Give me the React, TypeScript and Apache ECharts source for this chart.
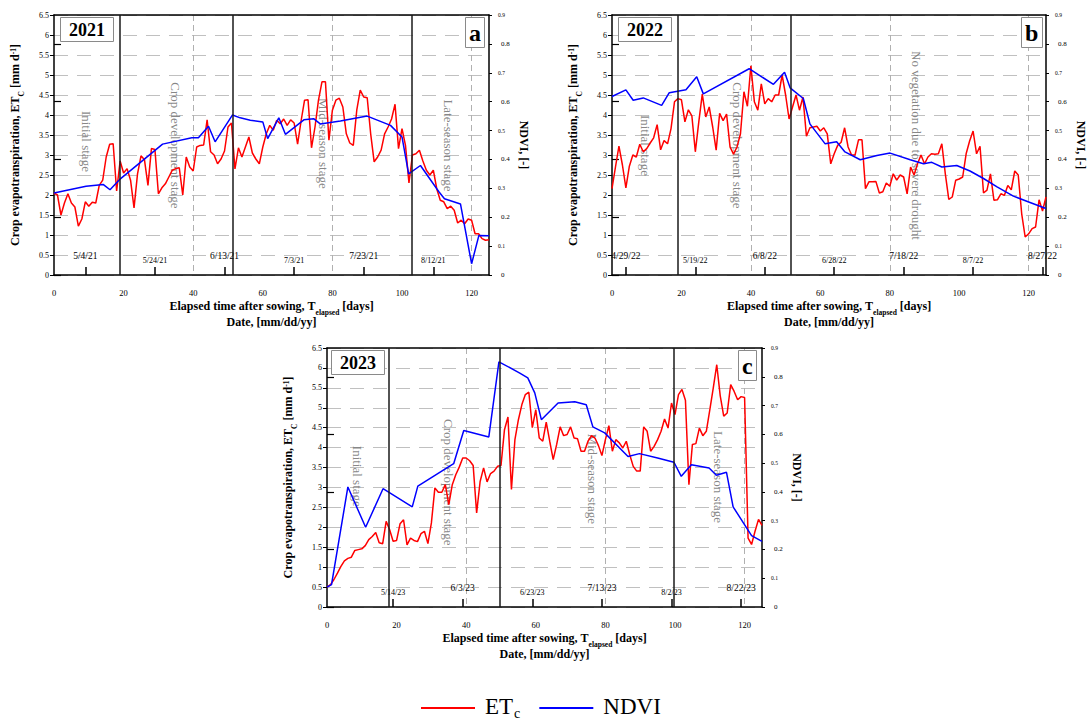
import React, { useEffect, useRef } from 'react';
import * as echarts from 'echarts';

const FONT = '"Liberation Serif", "Times New Roman", serif';

// ---------- data ----------
// daily crop evapotranspiration (mm/d), day 0..125 after sowing
const et2021 = [
  2.05, 2.0, 1.5, 1.8, 2.03, 1.8, 1.7, 1.22, 1.4, 1.83,
  1.72, 1.82, 1.8, 2.24, 2.37, 2.95, 3.27, 3.28, 2.1, 2.85,
  2.55, 2.66, 2.37, 1.68, 2.53, 2.98, 2.88, 2.24, 3.16, 3.14,
  2.03, 2.18, 2.28, 2.45, 2.62, 2.66, 2.68, 2.0, 2.95, 2.7,
  2.6, 3.2, 3.24, 3.25, 3.88, 3.08, 3.0, 2.78, 2.9, 3.1,
  3.7, 3.8, 2.65, 3.18, 2.95, 3.2, 3.45, 3.05, 2.9, 2.78,
  3.2, 3.53, 3.74, 3.62, 3.87, 3.78, 3.9, 3.74, 3.88, 3.8,
  3.27, 3.85, 4.37, 4.38, 3.18, 3.7, 4.37, 4.83, 4.83, 3.37,
  4.12, 4.37, 4.42, 4.2, 3.53, 3.3, 3.24, 4.12, 4.62, 4.45,
  4.43, 3.53, 2.83, 2.95, 3.12, 3.53, 3.7, 3.9, 4.27, 3.16,
  3.66, 3.24, 2.3, 3.0, 3.03, 3.12, 2.85, 2.62, 2.5, 2.62,
  2.15, 1.87, 1.83, 1.66, 1.72, 1.62, 1.3, 1.37, 1.28, 1.4,
  1.37, 1.03, 1.03, 0.91, 0.87, 0.88,
];
const et2022 = [
  2.16, 2.7, 3.22, 2.75, 2.18, 2.72, 3.0, 2.95, 3.27, 3.08,
  3.16, 3.3, 3.43, 3.76, 3.13, 3.36, 3.28, 3.66, 4.33, 4.41,
  4.38, 3.83, 4.13, 3.98, 3.08, 3.83, 4.52, 3.95, 4.2, 3.7,
  3.12, 4.04, 3.86, 4.02, 3.2, 3.02, 3.2, 3.53, 4.58, 4.22,
  5.23, 4.33, 4.12, 4.78, 4.28, 4.41, 4.33, 4.5, 4.5, 5.0,
  4.5, 3.9, 4.2, 4.5, 4.12, 4.45, 3.47, 3.68, 3.7, 3.72,
  3.6, 3.68, 3.53, 2.78, 3.03, 3.24, 3.32, 3.68, 3.2, 3.0,
  3.0, 3.38, 3.38, 2.16, 2.33, 2.33, 2.34, 2.05, 2.08, 2.3,
  2.22, 2.53, 2.37, 2.5, 2.45, 2.03, 2.7, 2.5, 2.78, 3.0,
  2.78, 2.95, 3.03, 3.02, 3.03, 3.28, 2.53, 1.89, 1.95, 2.37,
  2.4, 2.45, 3.03, 3.35, 3.6, 3.03, 3.22, 2.05, 2.12, 2.53,
  1.87, 1.88, 2.03, 1.99, 2.24, 2.13, 2.6, 2.5, 1.53, 0.95,
  1.03, 1.16, 1.2, 1.88, 1.6, 1.95,
];
const et2023 = [
  0.5, 0.56, 0.69, 0.85, 1.02, 1.16, 1.22, 1.25, 1.42, 1.44,
  1.46, 1.54, 1.69, 1.77, 1.87, 1.61, 1.59, 2.15, 1.94, 1.65,
  1.67, 2.09, 2.19, 1.56, 1.73, 1.67, 1.64, 1.84, 1.9, 1.59,
  2.11, 2.99, 2.88, 2.88, 3.07, 2.57, 3.07, 3.32, 3.51, 3.74,
  3.74, 3.67, 3.55, 2.36, 3.15, 3.49, 3.14, 3.35, 3.41, 3.53,
  3.55, 4.45, 4.77, 2.95, 4.2, 4.7, 5.08, 5.33, 5.39, 4.5,
  4.95, 4.24, 4.16, 4.64, 4.16, 3.7, 4.08, 4.52, 4.3, 4.33,
  4.52, 4.24, 4.22, 3.91, 3.91, 4.16, 4.3, 4.24, 4.05, 3.8,
  4.2, 4.55, 3.91, 4.2, 4.12, 3.99, 4.16, 3.82, 3.53, 3.41,
  3.41, 4.52, 4.41, 3.91, 4.03, 4.2, 4.41, 4.72, 4.49, 5.12,
  4.83, 5.33, 5.46, 5.19, 3.07, 4.08, 4.1, 4.49, 4.3, 4.41,
  4.95, 5.5, 6.08, 5.3, 4.79, 4.87, 5.58, 5.41, 5.2, 5.28,
  5.26, 1.73, 1.57, 1.9, 2.2, 2.05,
];

// NDVI observations [day after sowing, NDVI]
const ndvi2021 = [
  [0, 0.284], [9.2, 0.307], [14.2, 0.313], [16.1, 0.295], [18.8, 0.33],
  [31.2, 0.453], [39.6, 0.475], [41.5, 0.475], [44.4, 0.515], [46.3, 0.461],
  [51.3, 0.554], [53.5, 0.544], [56.4, 0.536], [60, 0.53], [61.4, 0.472],
  [64.6, 0.544], [66.5, 0.487], [71.8, 0.537], [74.6, 0.541], [76.5, 0.523],
  [82.3, 0.533], [90, 0.55], [96.7, 0.518], [100, 0.478], [101.9, 0.35],
  [105.3, 0.379], [110.6, 0.288], [112.2, 0.264], [116.8, 0.246], [120, 0.039],
  [122.1, 0.137], [125, 0.136],
];
const ndvi2022 = [
  [0, 0.618], [4, 0.641], [6.1, 0.605], [9, 0.613], [14.3, 0.587],
  [16.5, 0.631], [21.3, 0.641], [24.4, 0.686], [26.3, 0.627], [39.5, 0.714],
  [46.5, 0.66], [49.7, 0.702], [51.3, 0.648], [55.1, 0.611], [57, 0.523],
  [61.4, 0.454], [64.7, 0.461], [67.1, 0.426], [71.5, 0.399], [76.3, 0.414],
  [80.1, 0.422], [85.9, 0.399], [89.7, 0.385], [92.1, 0.39], [95, 0.374],
  [99.3, 0.379], [103.1, 0.36], [107, 0.334], [110.9, 0.305], [115.6, 0.273],
  [120.4, 0.251], [125, 0.23],
];
const ndvi2023 = [
  [0, 0.069], [1.3, 0.078], [6, 0.417], [11.1, 0.277], [16.1, 0.411],
  [24.5, 0.348], [26.1, 0.42], [36.4, 0.498], [39.3, 0.613], [46.5, 0.591],
  [49.4, 0.852], [55.4, 0.813], [57.7, 0.796], [59.7, 0.744], [61.6, 0.651],
  [66.4, 0.709], [71.2, 0.713], [74.5, 0.703], [76.4, 0.626], [79.8, 0.605],
  [86.5, 0.523], [89.8, 0.533], [95, 0.518], [99.7, 0.503], [101.8, 0.454],
  [104.7, 0.494], [109.8, 0.483], [111.9, 0.458], [114.8, 0.468], [116.7, 0.348],
  [122, 0.248], [125, 0.228],
];

// growth-stage boundaries (days after sowing)
const stage2021 = [18.8, 51.3, 102.7];
const stage2022 = [18.9, 51.4];
const stage2023 = [17.7, 49.6, 99.7];

// growth-stage annotations and their anchor [day, ETc]
const stageText2021 = ['Initial stage', 'Crop development stage', 'Mid-season stage', 'Late-season stage'];
const stageAt2021 = [[9.2, 3.34], [34.8, 3.24], [77.5, 3.29], [113.5, 3.24]];
const stageText2022 = ['Initial stage', 'Crop development stage', 'No vegetation due to severe drought'];
const stageAt2022 = [[9.6, 3.24], [36.1, 3.24], [87.8, 3.24]];
const stageText2023 = ['Initial stage', 'Crop development stage', 'Mid-season stage', 'Late-season stage'];
const stageAt2023 = [[8.9, 3.28], [35, 3.13], [76.3, 3.22], [112.6, 3.26]];

// calendar date ticks
const dateDays2021 = [9, 29, 49, 69, 89, 109];
const dateLabels2021 = ['5/4/21', '5/24/21', '6/13/21', '7/3/21', '7/23/21', '8/12/21'];
const dateDays2022 = [4, 24, 44, 64, 84, 104, 124];
const dateLabels2022 = ['4/29/22', '5/19/22', '6/8/22', '6/28/22', '7/18/22', '8/7/22', '8/27/22'];
const dateDays2023 = [19, 39, 59, 79, 99, 119];
const dateLabels2023 = ['5/14/23', '6/3/23', '6/23/23', '7/13/23', '8/2/23', '8/22/23'];

const years = ['2021', '2022', '2023'];
const letters = ['a', 'b', 'c'];

const panels = [
  { et: et2021, ndvi: ndvi2021, stages: stage2021, text: stageText2021, at: stageAt2021, dd: dateDays2021, dl: dateLabels2021 },
  { et: et2022, ndvi: ndvi2022, stages: stage2022, text: stageText2022, at: stageAt2022, dd: dateDays2022, dl: dateLabels2022 },
  { et: et2023, ndvi: ndvi2023, stages: stage2023, text: stageText2023, at: stageAt2023, dd: dateDays2023, dl: dateLabels2023 },
];

// ---------- layout / style ----------
const layout = [
  { left: 54, top: 15, width: 435, height: 260, yearL: 60, yearT: 17, letL: 465, letT: 17, bigFirst: true },
  { left: 612, top: 15, width: 434, height: 260, yearL: 618, yearT: 17, letL: 1021, letT: 17, bigFirst: true },
  { left: 327, top: 348, width: 435, height: 259, yearL: 331, yearT: 350, letL: 738, letT: 350, bigFirst: false },
];

const black = '#000';
const titleRich = {
  b: { fontFamily: FONT, fontSize: 12, fontWeight: 'bold', color: black, lineHeight: 16, verticalAlign: 'top' },
  sub: { fontFamily: FONT, fontSize: 7.5, fontWeight: 'bold', color: black, lineHeight: 8, verticalAlign: 'top', padding: [8, 0, 0, 0] },
  sup: { fontFamily: FONT, fontSize: 7.5, fontWeight: 'bold', color: black, lineHeight: 8, verticalAlign: 'top' },
};
const nameStyle = { fontFamily: FONT, fontSize: 12, fontWeight: 'bold', color: black, rich: titleRich };

function buildOption() {
  const grid: any[] = [];
  const xAxis: any[] = [];
  const yAxis: any[] = [];
  const series: any[] = [];
  const title: any[] = [];

  panels.forEach((p, i) => {
    const L = layout[i];
    grid.push({ left: L.left, top: L.top, width: L.width, height: L.height, containLabel: false, outerBoundsMode: 'none' });

    // main elapsed-time axis
    xAxis.push({
      gridIndex: i, type: 'value', min: 0, max: 125, interval: 20, position: 'bottom',
      axisLine: { show: true, onZero: false, lineStyle: { color: black, width: 1.5 } },
      axisTick: { show: false },
      axisLabel: { fontFamily: FONT, fontSize: 8.5, color: black, margin: 13, showMaxLabel: false },
      splitLine: { show: false },
      name: '{b|Elapsed time after sowing, T}{sub|elapsed}{b| [days]}\n{b|Date, [mm/dd/yy]}',
      nameLocation: 'middle', nameGap: 25,
      nameTextStyle: nameStyle,
    });
    // calendar date axis (ticks & labels inside)
    xAxis.push({
      gridIndex: i, type: 'value', min: 0, max: 125, position: 'bottom',
      axisLine: { show: false, onZero: false },
      axisTick: { show: true, inside: true, length: 8, customValues: p.dd, lineStyle: { color: black, width: 1.5 } },
      axisLabel: {
        show: true, inside: true, margin: 11, customValues: p.dd,
        fontFamily: FONT, color: black,
        formatter: (v: number) => {
          const k = p.dd.indexOf(Math.round(v));
          if (k < 0) return '';
          const big = (k % 2 === 0) === L.bigFirst;
          return `{${big ? 'big' : 'small'}|${p.dl[k]}}`;
        },
        rich: {
          big: { fontFamily: FONT, fontSize: 9.5, color: black, padding: [0, 0, 3, 0] },
          small: { fontFamily: FONT, fontSize: 8, color: black },
        },
      },
      splitLine: { show: false },
    });
    // top frame + vertical grid
    xAxis.push({
      gridIndex: i, type: 'value', min: 0, max: 125, interval: 40, position: 'top',
      axisLine: { show: true, onZero: false, lineStyle: { color: black, width: 1.5 } },
      axisTick: { show: false }, axisLabel: { show: false },
      splitLine: { show: true, showMinLine: false, showMaxLine: false, lineStyle: { color: '#b0b0b0', width: 1, type: [6, 4] } },
    });

    // ETc axis
    yAxis.push({
      gridIndex: i, type: 'value', min: 0, max: 6.5, interval: 0.5, position: 'left',
      axisLine: { show: true, onZero: false, lineStyle: { color: black, width: 1.5 } },
      axisTick: { show: true, length: 4, lineStyle: { color: black, width: 1 } },
      axisLabel: { fontFamily: FONT, fontSize: 8, color: black, margin: 5 },
      splitLine: { show: true, lineStyle: { color: '#c0c0c0', width: 1, type: [14, 9] } },
      name: '{b|Crop evapotranspiration, ET}{sub|C}{b| [mm d}{sup|-1}{b|]}',
      nameLocation: 'middle', nameRotate: 90, nameGap: 29,
      nameTextStyle: nameStyle,
    });
    // NDVI axis
    yAxis.push({
      gridIndex: i, type: 'value', min: 0, max: 0.9, interval: 0.1, position: 'right',
      axisLine: { show: true, onZero: false, lineStyle: { color: black, width: 1.5 } },
      axisTick: { show: true, length: 3, lineStyle: { color: black, width: 1 } },
      axisLabel: {
        margin: 9, fontFamily: FONT, color: black,
        formatter: (v: number) => {
          const r = Math.round(v * 10);
          const s = String(r / 10);
          return r % 2 === 0 ? `{M|${s}}` : `{m|${s}}`;
        },
        rich: {
          M: { fontFamily: FONT, fontSize: 7, color: black, padding: [0, 0, 0, 3] },
          m: { fontFamily: FONT, fontSize: 5.5, color: black },
        },
      },
      splitLine: { show: false },
      name: 'NDVI, [-]', nameLocation: 'middle', nameRotate: -90, nameGap: 29,
      nameTextStyle: { fontFamily: FONT, fontSize: 12, fontWeight: 'bold', color: black },
    });
    // NDVI major ticks
    yAxis.push({
      gridIndex: i, type: 'value', min: 0, max: 0.9, position: 'right',
      axisLine: { show: false },
      axisTick: { show: true, length: 7, customValues: [0, 0.2, 0.4, 0.6, 0.8], lineStyle: { color: black, width: 1.2 } },
      axisLabel: { show: false }, splitLine: { show: false },
    });

    series.push({
      type: 'scatter', name: 'stage' + i, xAxisIndex: 3 * i, yAxisIndex: 3 * i, z: 1, silent: true,
      symbolSize: 1, itemStyle: { color: 'rgba(0,0,0,0)' },
      data: p.at.map((a, k) => ({ value: a, name: p.text[k] })),
      label: { show: true, position: 'inside', rotate: -90, formatter: '{b}', fontFamily: FONT, fontSize: 13, color: '#666666' },
    });
    series.push({
      type: 'line', name: 'ETc', xAxisIndex: 3 * i, yAxisIndex: 3 * i, z: 3,
      data: p.et.map((v, d) => [d, v]), symbol: 'none',
      lineStyle: { color: '#ff0000', width: 1.5 }, itemStyle: { color: '#ff0000' },
      markLine: {
        silent: true, symbol: 'none', label: { show: false },
        lineStyle: { color: '#1a1a1a', width: 1.5, type: 'solid' },
        data: p.stages.map((x) => ({ xAxis: x })),
      },
    });
    series.push({
      type: 'line', name: 'NDVI', xAxisIndex: 3 * i, yAxisIndex: 3 * i + 1, z: 4,
      data: p.ndvi, symbol: 'none',
      lineStyle: { color: '#0000ff', width: 1.5 }, itemStyle: { color: '#0000ff' },
    });

    title.push({
      text: years[i], left: L.yearL, top: L.yearT, padding: [4, 9, 3, 9],
      borderColor: '#8a8a8a', borderWidth: 1, backgroundColor: '#fff',
      textStyle: { fontFamily: FONT, fontSize: 18, fontWeight: 'bold', color: black },
    });
    title.push({
      text: letters[i], left: L.letL, top: L.letT, padding: [4, 4, 3, 4],
      borderColor: '#8a8a8a', borderWidth: 1, backgroundColor: '#fff',
      textStyle: { fontFamily: FONT, fontSize: 24, fontWeight: 'bold', color: black },
    });
  });

  return {
    animation: false,
    backgroundColor: '#fff',
    textStyle: { fontFamily: FONT },
    title, grid, xAxis, yAxis, series,
    legend: {
      data: ['ETc', 'NDVI'], left: 421, top: 695, orient: 'horizontal', padding: 0,
      icon: 'rect', itemWidth: 54, itemHeight: 2, itemGap: 19,
      selectedMode: false,
      formatter: (n: string) => (n === 'ETc' ? '{a|ET}{s|c}' : '{a|NDVI}'),
      textStyle: {
        fontFamily: FONT, fontSize: 23, color: black,
        rich: {
          a: { fontFamily: FONT, fontSize: 23, color: black, lineHeight: 26, verticalAlign: 'top', padding: [0, 0, 0, 5] },
          s: { fontFamily: FONT, fontSize: 14, color: black, lineHeight: 14, verticalAlign: 'top', padding: [11, 0, 0, 1] },
        },
      },
    },
  };
}

export default function App() {
  const ref = useRef<HTMLDivElement>(null);
  useEffect(() => {
    if (!ref.current) return;
    const chart = echarts.init(ref.current, null, { renderer: 'svg' });
    chart.setOption(buildOption() as any);
    return () => chart.dispose();
  }, []);
  return (
    <div
      ref={ref}
      style={{ position: 'absolute', left: 0, top: 0, width: 1090, height: 724, background: '#fff' }}
    />
  );
}
